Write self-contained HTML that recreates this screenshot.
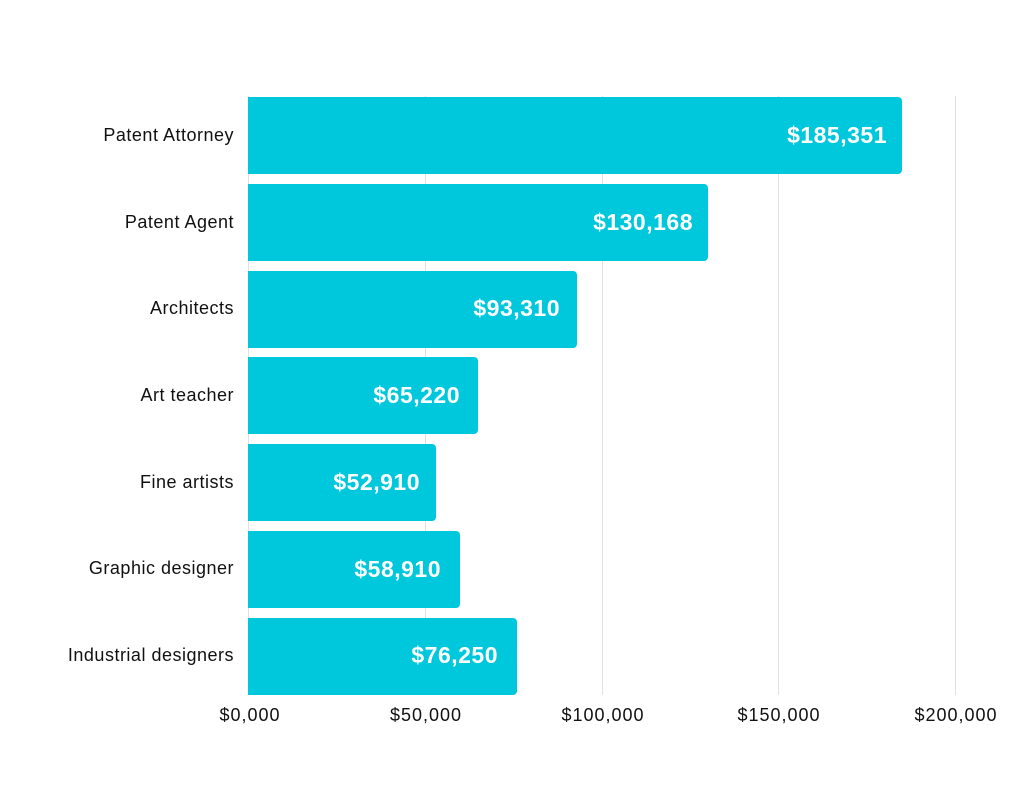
<!DOCTYPE html>
<html><head><style>
body{margin:0;background:#fff;}
svg text{font-family:"Liberation Sans",sans-serif;}
</style></head><body>
<svg width="1030" height="805" xmlns="http://www.w3.org/2000/svg">
<g stroke="#e0e0e0" stroke-width="1">
<line x1="248.5" y1="96" x2="248.5" y2="695"/>
<line x1="425.5" y1="96" x2="425.5" y2="695"/>
<line x1="602.5" y1="96" x2="602.5" y2="695"/>
<line x1="778.5" y1="96" x2="778.5" y2="695"/>
<line x1="955.5" y1="96" x2="955.5" y2="695"/>
</g>
<g fill="#00C8DC">
<rect x="248" y="97" width="654" height="77" rx="4"/><rect x="248" y="97" width="10" height="77"/>
<rect x="248" y="184" width="460" height="77" rx="4"/><rect x="248" y="184" width="10" height="77"/>
<rect x="248" y="271" width="329" height="77" rx="4"/><rect x="248" y="271" width="10" height="77"/>
<rect x="248" y="357" width="230" height="77" rx="4"/><rect x="248" y="357" width="10" height="77"/>
<rect x="248" y="444" width="188" height="77" rx="4"/><rect x="248" y="444" width="10" height="77"/>
<rect x="248" y="531" width="212" height="77" rx="4"/><rect x="248" y="531" width="10" height="77"/>
<rect x="248" y="618" width="269" height="77" rx="4"/><rect x="248" y="618" width="10" height="77"/>
</g>
<g font-size="18" fill="#111" text-anchor="end" letter-spacing="0.5">
<text x="234" y="141">Patent Attorney</text>
<text x="234" y="228">Patent Agent</text>
<text x="234" y="314">Architects</text>
<text x="234" y="401">Art teacher</text>
<text x="234" y="488">Fine artists</text>
<text x="234" y="574">Graphic designer</text>
<text x="234" y="661">Industrial designers</text>
</g>
<g font-size="23" font-weight="bold" fill="#fff" text-anchor="end" letter-spacing="0.5">
<text x="887" y="143">$185,351</text>
<text x="693" y="230">$130,168</text>
<text x="560" y="316">$93,310</text>
<text x="460" y="403">$65,220</text>
<text x="420" y="490">$52,910</text>
<text x="441" y="577">$58,910</text>
<text x="498" y="663">$76,250</text>
</g>
<g font-size="18" fill="#111" text-anchor="middle" letter-spacing="1">
<text x="250" y="721">$0,000</text>
<text x="426" y="721">$50,000</text>
<text x="603" y="721">$100,000</text>
<text x="779" y="721">$150,000</text>
<text x="956" y="721">$200,000</text>
</g>
</svg>
</body></html>
